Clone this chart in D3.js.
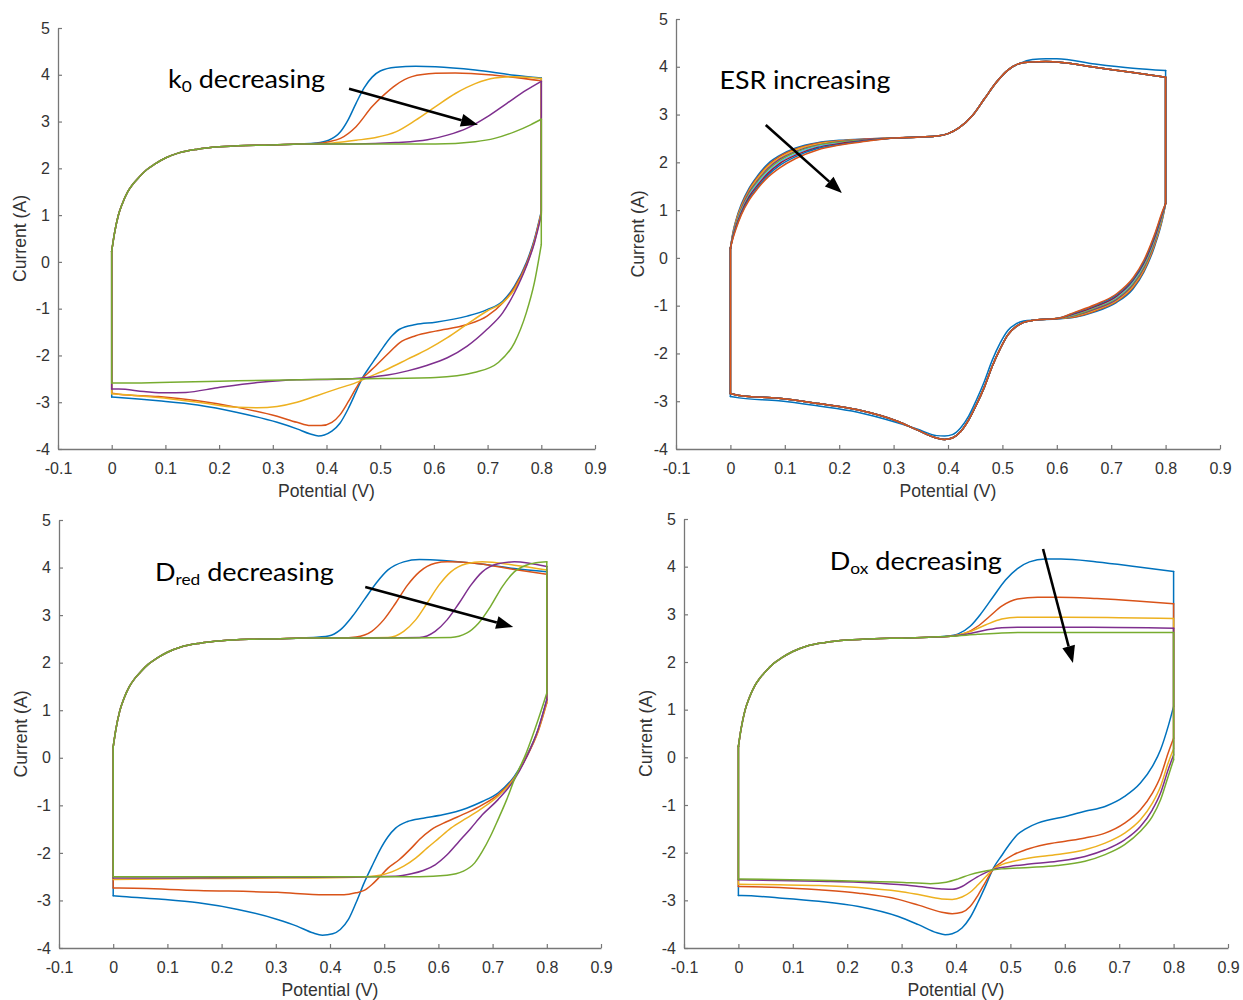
<!DOCTYPE html>
<html>
<head>
<meta charset="utf-8">
<script src="https://cdn.jsdelivr.net/npm/d3@7"></script>
<style>
  body { margin: 0; background: #ffffff; }
  svg { display: block; }
</style>
</head>
<body>
<svg id="chart" width="1243" height="1000"></svg>
<script>
// ---------- shared axis ticks ----------
const xTicks = [-0.1, 0, 0.1, 0.2, 0.3, 0.4, 0.5, 0.6, 0.7, 0.8, 0.9];
const yTicks = [-4, -3, -2, -1, 0, 1, 2, 3, 4, 5];
const lineColors = ['#0072BD', '#D95319', '#EDB120', '#7E2F8E', '#77AC30', '#4DBEEE', '#A2142F'];

// ---------- forward scan: double-layer charging (shared by k0, Dred, Dox sets) ----------
const chargeUp = [[0,0.23],[0.005,0.6],[0.012,0.98],[0.02,1.25],[0.03,1.5],[0.04,1.67],[0.05,1.8],
  [0.065,1.97],[0.08,2.09],[0.1,2.22],[0.125,2.33],[0.16,2.41],[0.2,2.46],[0.25,2.49],[0.3,2.5],[0.35,2.52]];

// ---------- k0 set ----------
const k0BlueUp = [[0.38,2.54],[0.404,2.6],[0.426,2.78],[0.44,3.03],[0.455,3.39],[0.47,3.72],[0.485,3.95],
  [0.5,4.08],[0.529,4.16],[0.566,4.18],[0.603,4.17],[0.677,4.1],[0.75,3.99],[0.8,3.93]];
const k0OrangeUp = [[0.38,2.53],[0.405,2.57],[0.426,2.64],[0.455,2.89],[0.485,3.32],[0.507,3.57],[0.529,3.78],
  [0.559,3.96],[0.603,4.03],[0.64,4.04],[0.713,3.99],[0.8,3.87]];
const k0YellowUp = [[0.38,2.52],[0.418,2.55],[0.455,2.6],[0.492,2.66],[0.529,2.78],[0.566,3.03],[0.603,3.32],
  [0.64,3.6],[0.677,3.81],[0.713,3.93],[0.75,3.96],[0.8,3.92]];
const k0PurpleUp = [[0.4,2.52],[0.455,2.52],[0.529,2.55],[0.588,2.61],[0.625,2.71],[0.662,2.86],[0.699,3.1],
  [0.736,3.39],[0.772,3.67],[0.8,3.86]];
const k0GreenUp = [[0.4,2.52],[0.5,2.52],[0.603,2.52],[0.677,2.57],[0.713,2.64],[0.75,2.78],[0.78,2.93],[0.8,3.05]];

const k0BlueDown = [[0.8,1.08],[0.787,0.48],[0.772,-0.02],[0.75,-0.52],[0.728,-0.84],[0.699,-1.02],[0.662,-1.16],
  [0.603,-1.29],[0.566,-1.34],[0.536,-1.44],[0.522,-1.58],[0.507,-1.8],[0.492,-2.05],[0.477,-2.3],[0.466,-2.5],
  [0.455,-2.78],[0.44,-3.15],[0.425,-3.45],[0.41,-3.62],[0.396,-3.7],[0.385,-3.72],[0.37,-3.68],[0.345,-3.57],
  [0.308,-3.43],[0.234,-3.22],[0.16,-3.06],[0.087,-2.97],[0.013,-2.9],[0,-2.89]];
const k0OrangeDown = [[0.8,1.05],[0.787,0.45],[0.772,-0.05],[0.75,-0.55],[0.728,-0.88],[0.699,-1.16],[0.662,-1.34],
  [0.603,-1.48],[0.566,-1.58],[0.536,-1.73],[0.514,-1.97],[0.492,-2.22],[0.477,-2.38],[0.466,-2.5],[0.455,-2.7],
  [0.44,-3.0],[0.425,-3.27],[0.41,-3.43],[0.39,-3.5],[0.37,-3.5],[0.345,-3.43],[0.308,-3.3],[0.234,-3.11],
  [0.16,-2.97],[0.087,-2.88],[0.013,-2.83],[0,-2.81]];
const k0YellowDown = [[0.8,1.03],[0.787,0.42],[0.772,-0.09],[0.75,-0.59],[0.728,-0.87],[0.699,-1.05],[0.662,-1.33],
  [0.625,-1.62],[0.588,-1.87],[0.551,-2.08],[0.514,-2.29],[0.477,-2.47],[0.455,-2.58],[0.418,-2.72],[0.382,-2.86],
  [0.345,-3.0],[0.308,-3.09],[0.271,-3.12],[0.234,-3.11],[0.16,-3.0],[0.087,-2.9],[0.013,-2.83],[0,-2.82]];
const k0PurpleDown = [[0.8,1.0],[0.787,0.4],[0.772,-0.1],[0.75,-0.66],[0.728,-1.09],[0.699,-1.44],[0.662,-1.8],
  [0.625,-2.05],[0.588,-2.21],[0.551,-2.33],[0.514,-2.42],[0.477,-2.47],[0.418,-2.51],[0.345,-2.52],[0.271,-2.58],
  [0.197,-2.69],[0.138,-2.79],[0.1,-2.8],[0.06,-2.77],[0.013,-2.72],[0,-2.72]];
const k0GreenDown = [[0.8,0.37],[0.787,-0.45],[0.772,-1.09],[0.75,-1.73],[0.72,-2.15],[0.677,-2.36],[0.603,-2.47],
  [0.455,-2.5],[0.234,-2.54],[0.013,-2.59],[0,-2.59]];

// ---------- ESR set ----------
const esrStart = [0, 0.2];
const esrBandUpX = [0.005, 0.01, 0.02, 0.035, 0.05, 0.07, 0.09, 0.12, 0.16, 0.2, 0.25];
const esrBandUp = [
  [0.55, 0.78, 1.12, 1.47, 1.72, 1.98, 2.14, 2.30, 2.41, 2.46, 2.49],
  [0.53, 0.76, 1.09, 1.44, 1.69, 1.95, 2.12, 2.28, 2.40, 2.45, 2.49],
  [0.52, 0.74, 1.06, 1.41, 1.66, 1.92, 2.09, 2.26, 2.38, 2.44, 2.48],
  [0.50, 0.71, 1.03, 1.38, 1.62, 1.88, 2.06, 2.23, 2.36, 2.43, 2.48],
  [0.49, 0.69, 1.00, 1.35, 1.59, 1.85, 2.03, 2.21, 2.35, 2.42, 2.47],
  [0.47, 0.67, 0.98, 1.32, 1.56, 1.81, 2.00, 2.18, 2.33, 2.40, 2.46],
  [0.46, 0.65, 0.95, 1.29, 1.52, 1.78, 1.97, 2.15, 2.31, 2.39, 2.46],
  [0.44, 0.62, 0.92, 1.25, 1.48, 1.74, 1.93, 2.12, 2.29, 2.37, 2.45],
  [0.42, 0.60, 0.90, 1.22, 1.45, 1.70, 1.88, 2.08, 2.26, 2.36, 2.44]
];
const esrRiseUp = [[0.3,2.51],[0.35,2.53],[0.38,2.55],[0.4,2.6],[0.42,2.72],[0.445,2.98],[0.467,3.33],
  [0.49,3.69],[0.51,3.93],[0.532,4.07]];
const esrPeakBlue = [[0.555,4.15],[0.58,4.17],[0.6,4.17],[0.67,4.06],[0.74,3.97],[0.8,3.92]];
const esrPeakRest = [[0.555,4.1],[0.58,4.11],[0.6,4.1],[0.67,3.99],[0.74,3.88],[0.8,3.78]];
const esrReverse = [0.8, 1.14];
const esrBandDownX = [0.795, 0.78, 0.76, 0.74, 0.71, 0.67, 0.635];
const esrBandDown = [
  [0.85, 0.25, -0.30, -0.65, -0.93, -1.13, -1.24],
  [0.87, 0.28, -0.27, -0.62, -0.91, -1.11, -1.23],
  [0.89, 0.31, -0.24, -0.59, -0.89, -1.09, -1.21],
  [0.91, 0.34, -0.21, -0.56, -0.87, -1.07, -1.20],
  [0.92, 0.37, -0.18, -0.53, -0.84, -1.05, -1.19],
  [0.94, 0.40, -0.14, -0.50, -0.82, -1.03, -1.17],
  [0.96, 0.43, -0.11, -0.47, -0.80, -1.02, -1.16],
  [0.98, 0.47, -0.08, -0.45, -0.77, -1.00, -1.14],
  [1.00, 0.50, -0.05, -0.42, -0.75, -0.98, -1.13]
];
const esrTailBlue = [[0.6,-1.28],[0.561,-1.3],[0.539,-1.32],[0.525,-1.38],[0.51,-1.52],[0.496,-1.78],[0.481,-2.15],
  [0.467,-2.58],[0.452,-2.98],[0.438,-3.31],[0.423,-3.56],[0.408,-3.7],[0.394,-3.73],[0.379,-3.72],[0.343,-3.58],
  [0.307,-3.45],[0.234,-3.23],[0.162,-3.1],[0.089,-2.99],[0.016,-2.93],[0,-2.9]];
const esrTailRest = [[0.6,-1.27],[0.561,-1.3],[0.539,-1.35],[0.525,-1.44],[0.51,-1.61],[0.496,-1.9],[0.481,-2.28],
  [0.467,-2.7],[0.452,-3.08],[0.438,-3.39],[0.423,-3.64],[0.408,-3.77],[0.394,-3.8],[0.379,-3.77],[0.343,-3.6],
  [0.307,-3.42],[0.234,-3.18],[0.162,-3.05],[0.089,-2.94],[0.016,-2.88],[0,-2.84]];
const esrColorIndex = [0, 1, 2, 3, 4, 5, 6, 0, 1];

// ---------- Dred set ----------
const redBlueUp = [[0.38,2.54],[0.397,2.56],[0.419,2.69],[0.441,2.97],[0.463,3.32],[0.485,3.67],[0.507,3.95],
  [0.536,4.12],[0.565,4.17],[0.594,4.16],[0.667,4.09],[0.74,3.98],[0.8,3.91]];
const redOrangeUp = [[0.42,2.52],[0.448,2.54],[0.477,2.66],[0.499,2.9],[0.521,3.25],[0.543,3.63],[0.565,3.91],
  [0.594,4.09],[0.616,4.12],[0.667,4.09],[0.74,3.96],[0.8,3.86]];
const redYellowUp = [[0.45,2.52],[0.507,2.53],[0.536,2.66],[0.558,2.9],[0.579,3.25],[0.601,3.63],[0.623,3.91],
  [0.652,4.08],[0.681,4.12],[0.74,4.05],[0.8,3.95]];
const redPurpleUp = [[0.5,2.52],[0.565,2.53],[0.594,2.66],[0.616,2.9],[0.638,3.25],[0.66,3.63],[0.681,3.91],
  [0.71,4.08],[0.74,4.12],[0.8,4.02]];
const redGreenUp = [[0.55,2.52],[0.623,2.53],[0.652,2.62],[0.674,2.83],[0.696,3.18],[0.718,3.6],[0.74,3.91],
  [0.762,4.05],[0.78,4.1],[0.8,4.12]];

const redBlueDown = [[0.8,1.22],[0.784,0.59],[0.762,0.03],[0.74,-0.39],[0.71,-0.74],[0.681,-0.92],[0.652,-1.06],
  [0.608,-1.2],[0.572,-1.27],[0.543,-1.34],[0.521,-1.48],[0.507,-1.66],[0.492,-1.94],[0.477,-2.29],[0.463,-2.63],
  [0.448,-3.05],[0.434,-3.4],[0.419,-3.61],[0.405,-3.7],[0.386,-3.73],[0.368,-3.68],[0.339,-3.54],[0.303,-3.4],
  [0.23,-3.19],[0.157,-3.05],[0.084,-2.97],[0.011,-2.91],[0,-2.9]];
const redOrangeDown = [[0.8,1.15],[0.784,0.55],[0.762,0.0],[0.74,-0.42],[0.71,-0.78],[0.681,-0.99],[0.652,-1.16],
  [0.616,-1.34],[0.587,-1.51],[0.565,-1.72],[0.55,-1.9],[0.528,-2.14],[0.507,-2.32],[0.492,-2.5],[0.477,-2.67],
  [0.463,-2.79],[0.448,-2.84],[0.426,-2.88],[0.39,-2.88],[0.303,-2.83],[0.157,-2.79],[0.011,-2.74],[0,-2.74]];
const redYellowDown = [[0.8,1.18],[0.784,0.57],[0.762,0.02],[0.74,-0.43],[0.71,-0.81],[0.681,-1.06],[0.652,-1.27],
  [0.623,-1.48],[0.601,-1.69],[0.579,-1.9],[0.558,-2.11],[0.536,-2.28],[0.514,-2.4],[0.492,-2.47],[0.448,-2.51],
  [0.303,-2.53],[0.157,-2.54],[0,-2.56]];
const redPurpleDown = [[0.8,1.22],[0.784,0.6],[0.762,0.0],[0.74,-0.46],[0.71,-0.88],[0.681,-1.2],[0.66,-1.48],
  [0.638,-1.76],[0.616,-2.04],[0.594,-2.25],[0.572,-2.37],[0.55,-2.44],[0.521,-2.49],[0.379,-2.51],[0,-2.53]];
const redGreenDown = [[0.8,1.36],[0.784,0.8],[0.762,0.1],[0.74,-0.46],[0.726,-0.88],[0.71,-1.3],[0.696,-1.65],
  [0.681,-1.97],[0.667,-2.21],[0.645,-2.39],[0.616,-2.47],[0.565,-2.5],[0,-2.5]];

// ---------- Dox set ----------
const oxBlueUp = [[0.38,2.54],[0.404,2.59],[0.426,2.75],[0.447,3.03],[0.469,3.38],[0.491,3.72],[0.513,3.96],
  [0.535,4.1],[0.564,4.16],[0.593,4.16],[0.659,4.1],[0.732,4.0],[0.8,3.9]];
const oxOrangeUp = [[0.39,2.54],[0.418,2.61],[0.44,2.75],[0.462,2.96],[0.484,3.17],[0.513,3.32],[0.55,3.36],
  [0.586,3.36],[0.659,3.33],[0.732,3.28],[0.8,3.22]];
const oxYellowUp = [[0.39,2.54],[0.426,2.64],[0.455,2.78],[0.484,2.9],[0.513,2.94],[0.6,2.94],[0.7,2.93],[0.8,2.91]];
const oxPurpleUp = [[0.39,2.54],[0.426,2.6],[0.455,2.67],[0.484,2.72],[0.513,2.73],[0.65,2.73],[0.8,2.71]];
const oxGreenUp = [[0.39,2.54],[0.44,2.58],[0.484,2.61],[0.52,2.62],[0.8,2.62]];

const oxBlueDown = [[0.8,1.07],[0.79,0.65],[0.776,0.16],[0.761,-0.19],[0.739,-0.54],[0.71,-0.82],[0.674,-1.03],
  [0.637,-1.13],[0.601,-1.24],[0.572,-1.31],[0.55,-1.38],[0.528,-1.5],[0.513,-1.62],[0.498,-1.83],[0.484,-2.06],
  [0.469,-2.32],[0.455,-2.68],[0.44,-3.05],[0.426,-3.36],[0.411,-3.58],[0.393,-3.7],[0.38,-3.72],[0.365,-3.68],
  [0.331,-3.51],[0.294,-3.34],[0.221,-3.13],[0.148,-3.02],[0.075,-2.95],[0.006,-2.9],[0,-2.9]];
const oxOrangeDown = [[0.8,0.4],[0.79,0.09],[0.776,-0.4],[0.761,-0.75],[0.739,-1.1],[0.71,-1.38],[0.674,-1.59],
  [0.637,-1.69],[0.601,-1.76],[0.564,-1.83],[0.528,-1.94],[0.506,-2.04],[0.484,-2.2],[0.469,-2.34],[0.455,-2.6],
  [0.44,-2.9],[0.426,-3.13],[0.411,-3.25],[0.393,-3.28],[0.374,-3.25],[0.331,-3.1],[0.294,-2.98],[0.221,-2.85],
  [0.148,-2.78],[0.075,-2.73],[0,-2.71]];
const oxYellowDown = [[0.8,0.18],[0.79,-0.12],[0.776,-0.61],[0.761,-0.96],[0.739,-1.31],[0.71,-1.59],[0.674,-1.8],
  [0.637,-1.94],[0.586,-2.04],[0.535,-2.11],[0.506,-2.18],[0.484,-2.25],[0.469,-2.34],[0.455,-2.5],[0.44,-2.68],
  [0.426,-2.83],[0.411,-2.93],[0.393,-2.98],[0.374,-2.97],[0.331,-2.88],[0.294,-2.81],[0.221,-2.73],[0.148,-2.69],[0,-2.66]];
const oxPurpleDown = [[0.8,0.05],[0.79,-0.26],[0.776,-0.75],[0.761,-1.1],[0.739,-1.45],[0.71,-1.73],[0.674,-1.94],
  [0.637,-2.08],[0.586,-2.18],[0.535,-2.24],[0.498,-2.29],[0.469,-2.35],[0.447,-2.46],[0.426,-2.6],[0.411,-2.71],
  [0.393,-2.77],[0.374,-2.76],[0.331,-2.71],[0.294,-2.67],[0.221,-2.62],[0.148,-2.6],[0,-2.57]];
const oxGreenDown = [[0.8,-0.05],[0.79,-0.4],[0.776,-0.89],[0.761,-1.24],[0.739,-1.55],[0.71,-1.83],[0.674,-2.04],
  [0.637,-2.18],[0.586,-2.27],[0.535,-2.31],[0.484,-2.34],[0.469,-2.36],[0.426,-2.46],[0.404,-2.55],[0.382,-2.62],
  [0.353,-2.65],[0.294,-2.62],[0.221,-2.6],[0.148,-2.58],[0,-2.55]];

// ---------- assemble loops (forward branch, reverse branch, colour) ----------
const k0Loops = [
  [chargeUp.concat(k0BlueUp), k0BlueDown, 0],
  [chargeUp.concat(k0OrangeUp), k0OrangeDown, 1],
  [chargeUp.concat(k0YellowUp), k0YellowDown, 2],
  [chargeUp.concat(k0PurpleUp), k0PurpleDown, 3],
  [chargeUp.concat(k0GreenUp), k0GreenDown, 4]
];
const esrLoops = esrBandUp.map((vals, i) => {
  const up = [esrStart].concat(esrBandUpX.map((x, j) => [x, vals[j]]), esrRiseUp, i === 0 ? esrPeakBlue : esrPeakRest);
  const down = [esrReverse].concat(esrBandDownX.map((x, j) => [x, esrBandDown[i][j]]), i === 0 ? esrTailBlue : esrTailRest);
  return [up, down, esrColorIndex[i]];
});
const redLoops = [
  [chargeUp.concat(redBlueUp), redBlueDown, 0],
  [chargeUp.concat(redOrangeUp), redOrangeDown, 1],
  [chargeUp.concat(redYellowUp), redYellowDown, 2],
  [chargeUp.concat(redPurpleUp), redPurpleDown, 3],
  [chargeUp.concat(redGreenUp), redGreenDown, 4]
];
const oxLoops = [
  [chargeUp.concat(oxBlueUp), oxBlueDown, 0],
  [chargeUp.concat(oxOrangeUp), oxOrangeDown, 1],
  [chargeUp.concat(oxYellowUp), oxYellowDown, 2],
  [chargeUp.concat(oxPurpleUp), oxPurpleDown, 3],
  [chargeUp.concat(oxGreenUp), oxGreenDown, 4]
];

// ---------- panel frames and annotations ----------
const panels = [
  { loops: k0Loops,  px: [58, 595],  py: [449, 28],
    note: { parts: [['k', false], ['0', true], [' decreasing', false]], at: [0.105, 3.72], width: 157,
            from: [0.442, 3.70], to: [0.682, 2.93] } },
  { loops: esrLoops, px: [676, 1220], py: [449, 19],
    note: { parts: [['ESR increasing', false]], at: [-0.02, 3.53], width: 171,
            from: [0.065, 2.78], to: [0.205, 1.36] } },
  { loops: redLoops, px: [59, 601],  py: [948, 520],
    note: { parts: [['D', false], ['red', true], [' decreasing', false]], at: [0.077, 3.72], width: 179,
            from: [0.465, 3.59], to: [0.738, 2.75] } },
  { loops: oxLoops,  px: [684, 1228], py: [948, 519],
    note: { parts: [['D', false], ['ox', true], [' decreasing', false]], at: [0.168, 3.93], width: 172,
            from: [0.56, 4.37], to: [0.615, 1.98] } }
];

const svg = d3.select('#chart');
const axisColor = '#777777';
const textColor = '#333333';
const tickFmt = d => String(+d.toFixed(1));

panels.forEach(p => {
  const sx = d3.scaleLinear().domain([-0.1, 0.9]).range(p.px);
  const sy = d3.scaleLinear().domain([-4, 5]).range(p.py);
  const g = svg.append('g');

  // axes (left and bottom only, inward ticks)
  const gx = g.append('g').attr('transform', `translate(0,${p.py[0]})`)
    .call(d3.axisBottom(sx).tickValues(xTicks).tickFormat(tickFmt).tickSizeInner(-4).tickSizeOuter(0).tickPadding(13.5));
  const gy = g.append('g').attr('transform', `translate(${p.px[0]},0)`)
    .call(d3.axisLeft(sy).tickValues(yTicks).tickFormat(tickFmt).tickSizeInner(-4).tickSizeOuter(0).tickPadding(8));
  [gx, gy].forEach(a => {
    a.attr('font-family', '"Liberation Sans", Arial, sans-serif').attr('font-size', 16);
    a.selectAll('path.domain').attr('stroke', axisColor).attr('stroke-width', 1.3);
    a.selectAll('.tick line').attr('stroke', axisColor).attr('stroke-width', 1.2);
    a.selectAll('.tick text').attr('fill', textColor);
  });

  // axis titles
  g.append('text')
    .attr('x', (p.px[0] + p.px[1]) / 2).attr('y', p.py[0] + 48)
    .attr('text-anchor', 'middle').attr('font-family', '"Liberation Sans", Arial, sans-serif')
    .attr('font-size', 17.6).attr('fill', textColor).text('Potential (V)');
  g.append('text')
    .attr('transform', `translate(${p.px[0] - 32},${(p.py[0] + p.py[1]) / 2}) rotate(-90)`)
    .attr('text-anchor', 'middle').attr('font-family', '"Liberation Sans", Arial, sans-serif')
    .attr('font-size', 17.6).attr('fill', textColor).text('Current (A)');

  // voltammogram loops
  const smooth = d3.line().x(d => sx(d[0])).y(d => sy(d[1])).curve(d3.curveMonotoneX);
  const straight = d3.line().x(d => sx(d[0])).y(d => sy(d[1]));
  p.loops.forEach(([up, down, ci]) => {
    const lg = g.append('g').attr('fill', 'none').attr('stroke', lineColors[ci])
      .attr('stroke-width', 1.5).attr('stroke-linecap', 'round').attr('stroke-linejoin', 'round');
    lg.append('path').attr('d', smooth(up));
    lg.append('path').attr('d', straight([up[up.length - 1], down[0]]));
    lg.append('path').attr('d', smooth(down.slice().reverse()));
    lg.append('path').attr('d', straight([down[down.length - 1], up[0]]));
  });

  // annotation text
  const n = p.note;
  const tx = sx(n.at[0]), ty = sy(n.at[1]);
  const t = g.append('text').attr('font-family', 'Lato, "Open Sans", sans-serif')
    .attr('font-size', 25).attr('fill', '#000');
  n.parts.forEach(([s, sub]) => {
    const ts = t.append('tspan').text(s);
    if (sub) ts.attr('font-size', 16).attr('dy', 4);
    else if (t.selectAll('tspan').size() > 1) ts.attr('dy', -4);
  });
  const w = t.node().getBBox().width;
  t.attr('transform', `translate(${tx},${ty}) scale(${n.width / w},1)`);

  // annotation arrow
  const x1 = sx(n.from[0]), y1 = sy(n.from[1]), x2 = sx(n.to[0]), y2 = sy(n.to[1]);
  const ang = Math.atan2(y2 - y1, x2 - x1);
  const headLen = 17, headHalf = 6.5;
  const bx = x2 - headLen * Math.cos(ang), by = y2 - headLen * Math.sin(ang);
  g.append('line').attr('x1', x1).attr('y1', y1).attr('x2', bx).attr('y2', by)
    .attr('stroke', '#000').attr('stroke-width', 2.6);
  g.append('path')
    .attr('d', `M${x2},${y2}L${bx + headHalf * Math.sin(ang)},${by - headHalf * Math.cos(ang)}L${bx - headHalf * Math.sin(ang)},${by + headHalf * Math.cos(ang)}Z`)
    .attr('fill', '#000');
});
</script>
</body>
</html>
